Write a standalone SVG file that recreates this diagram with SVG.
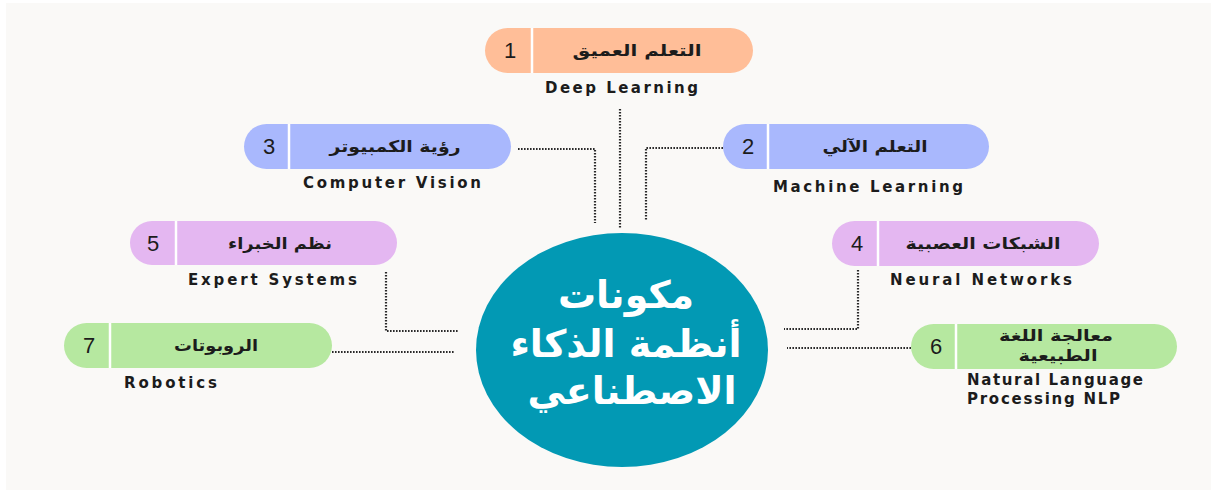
<svg xmlns="http://www.w3.org/2000/svg" width="1211" height="492" viewBox="0 0 1211 492">
<style>
.num{font-family:"Liberation Sans",Arial,sans-serif;font-size:22px;fill:#1c1c1c;text-anchor:middle}
.ar{font-family:"DejaVu Sans","Noto Sans",sans-serif;font-size:16px;font-weight:bold;fill:#1c1c1c;text-anchor:middle}
.en{font-family:"DejaVu Sans","Liberation Sans",sans-serif;font-size:15px;font-weight:bold;fill:#1c1c1c}
.div{stroke:#ffffff;stroke-width:2.5}
.con{fill:none;stroke:#2a2a2a;stroke-width:2.2;stroke-dasharray:1.6 1.4}
.peach{fill:#ffbe98}
.blue{fill:#a9b8fd}
.purple{fill:#e4b7f1}
.green{fill:#b6e8a0}
.center{font-family:"DejaVu Sans","Noto Sans",sans-serif;font-size:38px;font-weight:bold;fill:#ffffff;text-anchor:middle}
</style>
<rect x="0" y="0" width="1211" height="492" fill="#ffffff"/>
<rect x="6" y="3" width="1205" height="487" fill="#faf9f7"/>
<g id="connectors">
<path class="con" d="M620 109 V228"/>
<path class="con" d="M518 149 H595 V223"/>
<path class="con" d="M723 148 H646 V220"/>
<path class="con" d="M386 272 V331 H459"/>
<path class="con" d="M332 352 H455"/>
<path class="con" d="M858 270 V329 H784"/>
<path class="con" d="M911 348 H787"/>
</g>
<g id="center">
<ellipse cx="622" cy="350" rx="146" ry="117" fill="#0299b4"/>
<text class="center" x="626" y="308">مكونات</text>
<text class="center" x="626" y="357">أنظمة الذكاء</text>
<text class="center" x="632" y="404">الاصطناعي</text>
</g>
<g id="node1">
<rect class="peach" x="485" y="28" width="268" height="45" rx="22.5"/>
<line class="div" x1="532" y1="28" x2="532" y2="73"/>
<text class="num" x="510" y="58">1</text>
<text class="ar" x="637" y="56" textLength="129" lengthAdjust="spacingAndGlyphs">التعلم العميق</text>
<text class="en" x="545" y="93" textLength="153" lengthAdjust="spacing">Deep Learning</text>
</g>
<g id="node2">
<rect class="blue" x="723" y="124" width="266" height="45" rx="22.5"/>
<line class="div" x1="768" y1="124" x2="768" y2="169"/>
<text class="num" x="748" y="154">2</text>
<text class="ar" x="875" y="152" textLength="105" lengthAdjust="spacingAndGlyphs">التعلم الآلي</text>
<text class="en" x="773" y="192" textLength="190" lengthAdjust="spacing">Machine Learning</text>
</g>
<g id="node3">
<rect class="blue" x="244" y="124" width="267" height="45" rx="22.5"/>
<line class="div" x1="289" y1="124" x2="289" y2="169"/>
<text class="num" x="269" y="154">3</text>
<text class="ar" x="395" y="152" textLength="131" lengthAdjust="spacingAndGlyphs">رؤية الكمبيوتر</text>
<text class="en" x="303" y="188" textLength="178" lengthAdjust="spacing">Computer Vision</text>
</g>
<g id="node4">
<rect class="purple" x="832" y="221" width="267" height="45" rx="22.5"/>
<line class="div" x1="878" y1="221" x2="878" y2="266"/>
<text class="num" x="857" y="251">4</text>
<text class="ar" x="983" y="249" textLength="155" lengthAdjust="spacingAndGlyphs">الشبكات العصبية</text>
<text class="en" x="890" y="285" textLength="182" lengthAdjust="spacing">Neural Networks</text>
</g>
<g id="node5">
<rect class="purple" x="130" y="221" width="267" height="44" rx="22"/>
<line class="div" x1="176" y1="221" x2="176" y2="265"/>
<text class="num" x="153" y="251">5</text>
<text class="ar" x="280" y="249" textLength="104" lengthAdjust="spacingAndGlyphs">نظم الخبراء</text>
<text class="en" x="188" y="285" textLength="169" lengthAdjust="spacing">Expert Systems</text>
</g>
<g id="node6">
<rect class="green" x="911" y="324" width="266" height="45" rx="22.5"/>
<line class="div" x1="956" y1="324" x2="956" y2="369"/>
<text class="num" x="936" y="354">6</text>
<text class="ar" x="1056" y="341" textLength="114" lengthAdjust="spacingAndGlyphs">معالجة اللغة</text>
<text class="ar" x="1058" y="361" textLength="79" lengthAdjust="spacingAndGlyphs">الطبيعية</text>
<text class="en" x="967" y="385" textLength="176" lengthAdjust="spacing">Natural Language</text>
<text class="en" x="967" y="404" textLength="153" lengthAdjust="spacing">Processing NLP</text>
</g>
<g id="node7">
<rect class="green" x="64" y="323" width="268" height="45" rx="22.5"/>
<line class="div" x1="110" y1="323" x2="110" y2="368"/>
<text class="num" x="89" y="353">7</text>
<text class="ar" x="216" y="351" textLength="84" lengthAdjust="spacingAndGlyphs">الروبوتات</text>
<text class="en" x="124" y="388" textLength="93" lengthAdjust="spacing">Robotics</text>
</g>
</svg>
